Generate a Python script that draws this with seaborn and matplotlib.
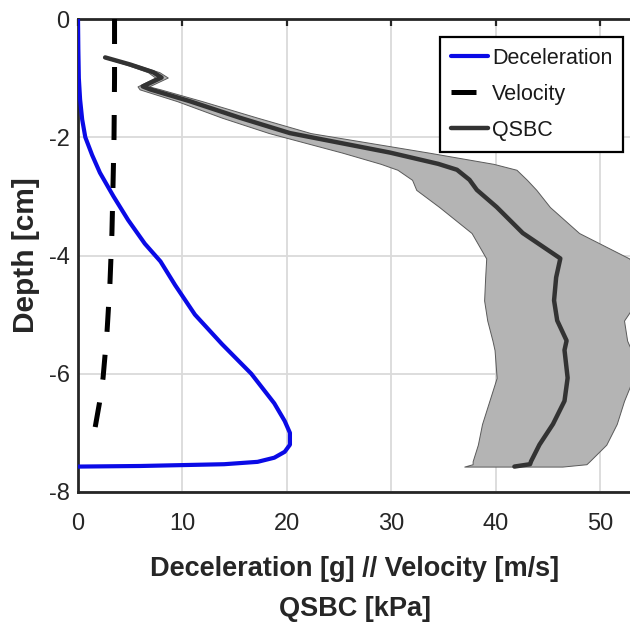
import matplotlib
matplotlib.use("Agg")
import matplotlib.pyplot as plt
import seaborn as sns
import pandas as pd
from matplotlib.lines import Line2D

# ---- data ----
decel_depth = [0, -0.5, -1.0, -1.36, -1.7, -2.0, -2.3, -2.6, -3.0, -3.4, -3.8,
               -4.1, -4.5, -5.0, -5.5, -6.0, -6.5, -6.8, -7.0, -7.2, -7.32, -7.42,
               -7.49, -7.53, -7.56, -7.57]
decel_g = [0, 0.03, 0.08, 0.2, 0.4, 0.7, 1.35, 2.1, 3.4, 4.8, 6.4,
           7.9, 9.3, 11.2, 13.8, 16.6, 18.8, 19.8, 20.3, 20.3, 19.8, 18.8,
           17.2, 14.0, 6.0, 0]

vel_depth = [0, -1, -2, -2.84, -3.62, -4.47, -5.32, -6.07, -6.5, -6.92, -7.18]
vel_ms = [3.5, 3.5, 3.45, 3.35, 3.25, 3.06, 2.77, 2.4, 2.05, 1.63, 1.24]

qsbc_depth = [-0.65, -0.77, -0.90, -0.99, -1.14, -1.19, -1.39, -1.67, -1.93,
              -2.26, -2.45, -2.55, -2.72, -2.89, -3.18, -3.62, -4.05, -4.37,
              -4.76, -5.10, -5.44, -5.60, -6.07, -6.46, -6.85, -7.20, -7.48,
              -7.53, -7.57]
qsbc_mean = [2.6, 5.0, 7.2, 8.0, 6.2, 6.9, 10.7, 15.5, 20.3,
             29.9, 34.5, 36.3, 37.5, 38.2, 40.1, 42.6, 46.2, 45.8,
             45.6, 45.9, 46.8, 46.6, 46.9, 46.6, 45.5, 44.2, 43.4,
             43.3, 41.8]
qsbc_low = [2.4, 4.6, 6.7, 7.4, 5.7, 5.9, 9.5, 13.8, 18.3,
            25.3, 29.0, 30.6, 32.0, 32.4, 34.6, 37.7, 39.1, 39.0,
            38.9, 39.2, 39.7, 39.9, 40.1, 39.4, 38.7, 38.3, 37.8,
            37.8, 37.0]
qsbc_high = [2.8, 5.5, 7.8, 8.6, 6.8, 7.9, 11.9, 17.2, 22.3,
             33.6, 39.8, 42.0, 43.0, 43.9, 45.2, 48.0, 52.8, 54.0,
             53.6, 52.3, 52.6, 53.0, 53.2, 52.3, 51.6, 50.6, 49.0,
             48.7, 46.4]

x_ticks = [0, 10, 20, 30, 40, 50]
y_ticks = [0, -2, -4, -6, -8]
legend_labels = ["Deceleration", "Velocity", "QSBC"]
xlabel_text = "Deceleration [g] // Velocity [m/s]\nQSBC [kPa]"
ylabel_text = "Depth [cm]"

# ---- styling ----
sns.set_theme(style="white")
plt.rcParams["font.family"] = ["Liberation Sans", "DejaVu Sans"]

W, H = 630, 627
fig = plt.figure(figsize=(W / 100, H / 100), dpi=100)
left, right, top, bottom = 78, 632, 19, 492
ax = fig.add_axes([left / W, 1 - bottom / H, (right - left) / W, (bottom - top) / H])

x_right = (right - left) / 104.4 * 10  # data units at right edge
ax.set_xlim(0, x_right)
ax.set_ylim(-8, 0)

ax.grid(True, color="#dadada", linewidth=1.3)
ax.set_axisbelow(True)

# QSBC band and mean
ax.fill_betweenx(qsbc_depth, qsbc_low, qsbc_high, facecolor="#b4b4b4",
                 edgecolor="#5a5a5a", linewidth=0.7, zorder=2)
sns.lineplot(x=qsbc_mean, y=qsbc_depth, sort=False, estimator=None, ax=ax,
             color="#333333", linewidth=3.2, zorder=3)
# velocity
sns.lineplot(x=vel_ms, y=vel_depth, sort=False, estimator=None, ax=ax,
             color="black", linewidth=3.6, zorder=4)
ax.lines[-1].set_dashes([5.0, 4.6])
# deceleration
sns.lineplot(x=decel_g, y=decel_depth, sort=False, estimator=None, ax=ax,
             color="#0a0ae6", linewidth=3.0, zorder=5)

ax.set_xticks(x_ticks)
ax.set_yticks(y_ticks)
ax.set_xticklabels([str(t) for t in x_ticks])
ax.set_yticklabels([str(t) for t in y_ticks])
ax.tick_params(axis="both", direction="in", length=5, width=1.6, colors="#262626",
               labelsize=17, labelcolor="#262626", top=True, right=False)
ax.tick_params(axis="x", pad=15)
ax.tick_params(axis="y", pad=6)

for s in ax.spines.values():
    s.set_color("#262626")
    s.set_linewidth(2.0)

ax.set_xlabel(xlabel_text, fontsize=19.5, fontweight="bold", color="#262626",
              linespacing=1.72, labelpad=15)
ax.set_ylabel(ylabel_text, fontsize=21.5, fontweight="bold", color="#262626",
              labelpad=6)

handles = [
    Line2D([], [], color="#0a0ae6", linewidth=3.0),
    Line2D([], [], color="black", linewidth=3.6, dashes=[5.0, 4.6]),
    Line2D([], [], color="#333333", linewidth=3.2),
]
leg = ax.legend(handles, legend_labels, loc="upper right",
                bbox_to_anchor=((623 - left) / (right - left), (bottom - 37) / (bottom - top)),
                fontsize=15.5, frameon=True, fancybox=False, framealpha=1,
                edgecolor="black", handlelength=1.7, handletextpad=0.2,
                borderpad=0.5, labelspacing=0.7, borderaxespad=0)
leg.get_frame().set_linewidth(1.6)
for t in leg.get_texts():
    t.set_color("#1a1a1a")

fig.savefig("out.png", dpi=100)
